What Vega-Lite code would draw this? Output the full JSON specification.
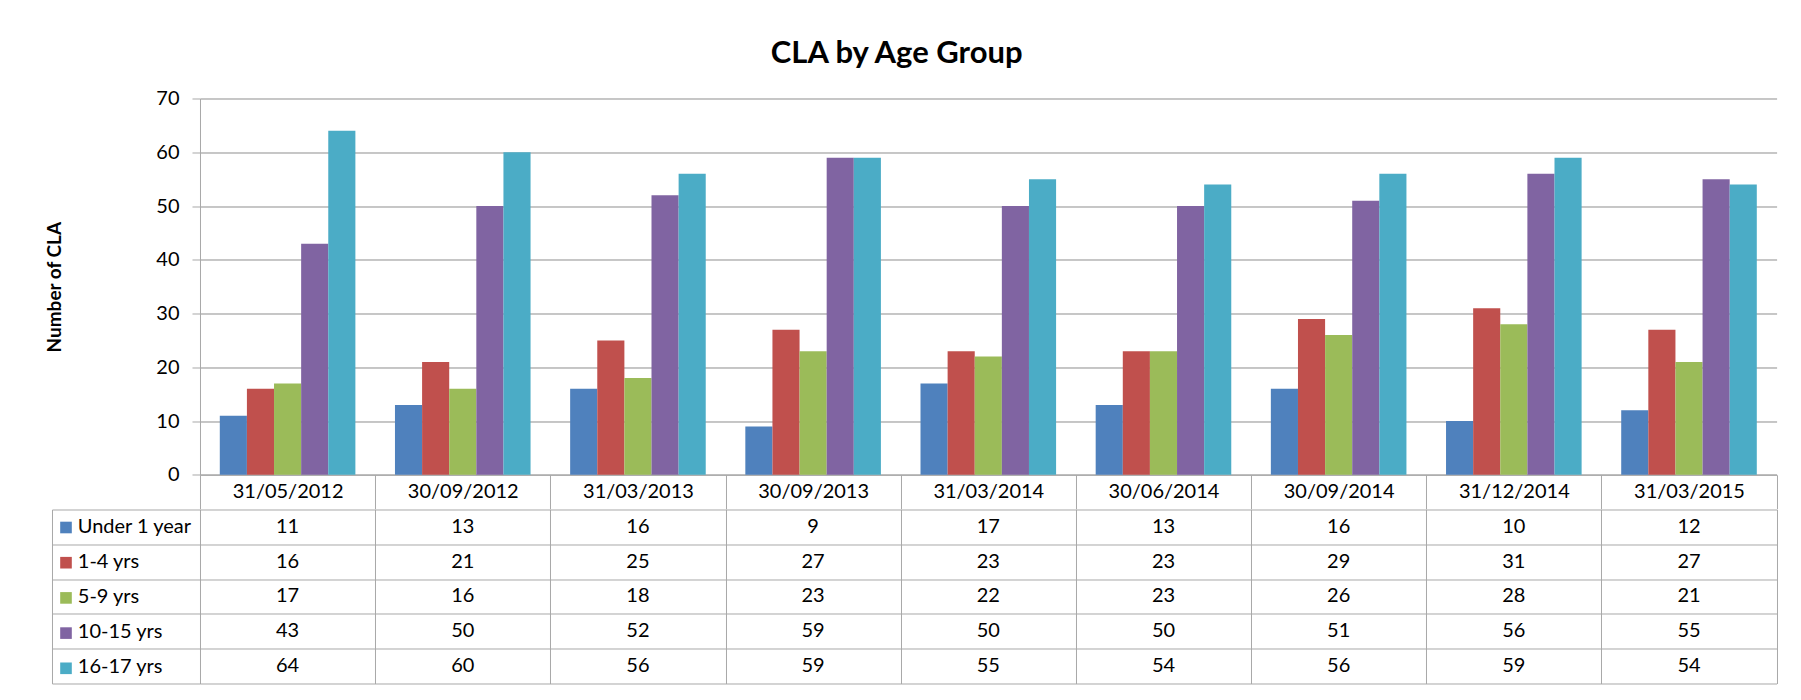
{
  "$schema": "https://vega.github.io/schema/vega-lite/v6.json",
  "background": "white",
  "padding": {"left": 45, "top": 37.5, "right": 5, "bottom": 5},
  "title": {"text": "CLA by Age Group", "font": "Lato", "fontSize": 31, "fontWeight": "bold", "color": "black", "anchor": "middle", "offset": 18.5, "dx": -15},
  "datasets": {
    "cla": [
      {"date": "31/05/2012", "group": "Under 1 year", "value": 11},
      {"date": "30/09/2012", "group": "Under 1 year", "value": 13},
      {"date": "31/03/2013", "group": "Under 1 year", "value": 16},
      {"date": "30/09/2013", "group": "Under 1 year", "value": 9},
      {"date": "31/03/2014", "group": "Under 1 year", "value": 17},
      {"date": "30/06/2014", "group": "Under 1 year", "value": 13},
      {"date": "30/09/2014", "group": "Under 1 year", "value": 16},
      {"date": "31/12/2014", "group": "Under 1 year", "value": 10},
      {"date": "31/03/2015", "group": "Under 1 year", "value": 12},
      {"date": "31/05/2012", "group": "1-4 yrs", "value": 16},
      {"date": "30/09/2012", "group": "1-4 yrs", "value": 21},
      {"date": "31/03/2013", "group": "1-4 yrs", "value": 25},
      {"date": "30/09/2013", "group": "1-4 yrs", "value": 27},
      {"date": "31/03/2014", "group": "1-4 yrs", "value": 23},
      {"date": "30/06/2014", "group": "1-4 yrs", "value": 23},
      {"date": "30/09/2014", "group": "1-4 yrs", "value": 29},
      {"date": "31/12/2014", "group": "1-4 yrs", "value": 31},
      {"date": "31/03/2015", "group": "1-4 yrs", "value": 27},
      {"date": "31/05/2012", "group": "5-9 yrs", "value": 17},
      {"date": "30/09/2012", "group": "5-9 yrs", "value": 16},
      {"date": "31/03/2013", "group": "5-9 yrs", "value": 18},
      {"date": "30/09/2013", "group": "5-9 yrs", "value": 23},
      {"date": "31/03/2014", "group": "5-9 yrs", "value": 22},
      {"date": "30/06/2014", "group": "5-9 yrs", "value": 23},
      {"date": "30/09/2014", "group": "5-9 yrs", "value": 26},
      {"date": "31/12/2014", "group": "5-9 yrs", "value": 28},
      {"date": "31/03/2015", "group": "5-9 yrs", "value": 21},
      {"date": "31/05/2012", "group": "10-15 yrs", "value": 43},
      {"date": "30/09/2012", "group": "10-15 yrs", "value": 50},
      {"date": "31/03/2013", "group": "10-15 yrs", "value": 52},
      {"date": "30/09/2013", "group": "10-15 yrs", "value": 59},
      {"date": "31/03/2014", "group": "10-15 yrs", "value": 50},
      {"date": "30/06/2014", "group": "10-15 yrs", "value": 50},
      {"date": "30/09/2014", "group": "10-15 yrs", "value": 51},
      {"date": "31/12/2014", "group": "10-15 yrs", "value": 56},
      {"date": "31/03/2015", "group": "10-15 yrs", "value": 55},
      {"date": "31/05/2012", "group": "16-17 yrs", "value": 64},
      {"date": "30/09/2012", "group": "16-17 yrs", "value": 60},
      {"date": "31/03/2013", "group": "16-17 yrs", "value": 56},
      {"date": "30/09/2013", "group": "16-17 yrs", "value": 59},
      {"date": "31/03/2014", "group": "16-17 yrs", "value": 55},
      {"date": "30/06/2014", "group": "16-17 yrs", "value": 54},
      {"date": "30/09/2014", "group": "16-17 yrs", "value": 56},
      {"date": "31/12/2014", "group": "16-17 yrs", "value": 59},
      {"date": "31/03/2015", "group": "16-17 yrs", "value": 54}
    ]
  },
  "vconcat": [
    {
      "width": 1576.6,
      "height": 376.3,
      "data": {"name": "cla"},
      "mark": {"type": "bar"},
      "encoding": {
        "x": {
          "field": "date", "type": "nominal", "sort": null,
          "scale": {"paddingInner": 0, "paddingOuter": 0},
          "axis": {"title": null, "grid": false, "tickBand": "extent", "tickSize": 34, "tickColor": "#a8a8a8", "domainColor": "#a8a8a8", "labelPadding": -17, "labelBaseline": "middle", "labelAngle": 0, "labelFont": "Lato", "labelFontSize": 20, "labelColor": "black"}
        },
        "xOffset": {
          "field": "group", "type": "nominal",
          "sort": ["Under 1 year", "1-4 yrs", "5-9 yrs", "10-15 yrs", "16-17 yrs"],
          "scale": {"paddingInner": 0, "paddingOuter": 0.73}
        },
        "y": {
          "field": "value", "type": "quantitative",
          "scale": {"domain": [0, 70], "nice": false},
          "axis": {"values": [0, 10, 20, 30, 40, 50, 60, 70], "grid": true, "gridColor": "#8e8e8e", "domainColor": "#a8a8a8", "tickColor": "#a8a8a8", "tickSize": 8, "labelPadding": 13, "labelFont": "Lato", "labelFontSize": 20, "labelColor": "black", "title": "Number of CLA", "titleFont": "Lato", "titleFontSize": 19, "titleFontWeight": "bold", "titleColor": "black", "titlePadding": 91}
        },
        "color": {
          "field": "group", "type": "nominal",
          "sort": ["Under 1 year", "1-4 yrs", "5-9 yrs", "10-15 yrs", "16-17 yrs"],
          "scale": {"domain": ["Under 1 year", "1-4 yrs", "5-9 yrs", "10-15 yrs", "16-17 yrs"], "range": ["#4f81bd", "#c0504d", "#9bbb59", "#8064a2", "#4bacc6"]},
          "legend": {"orient": "none", "legendX": -140, "legendY": 423, "title": null, "symbolType": "square", "symbolSize": 135, "symbolStrokeWidth": 0, "labelExpr": "''", "labelFontSize": 1, "rowPadding": 23.2, "padding": 0, "symbolOffset": 0}
        }
      }
    },
    {
      "width": 1576.6,
      "height": 174,
      "data": {"name": "cla"},
      "layer": [
        {
          "mark": {"type": "text", "font": "Lato", "fontSize": 20, "color": "black", "baseline": "middle"},
          "encoding": {
            "x": {
              "field": "date", "type": "nominal", "sort": null,
              "scale": {"paddingInner": 0, "paddingOuter": 0},
              "axis": {"title": null, "grid": true, "tickBand": "extent", "gridColor": "#a8a8a8", "labels": false, "ticks": false, "domain": false}
            },
            "y": {
              "field": "group", "type": "nominal",
              "sort": ["Under 1 year", "1-4 yrs", "5-9 yrs", "10-15 yrs", "16-17 yrs"],
              "scale": {"paddingInner": 0, "paddingOuter": 0},
              "axis": {"title": null, "grid": true, "tickBand": "extent", "gridColor": "#a8a8a8", "tickSize": 148, "tickColor": "#a8a8a8", "domain": false, "labelAlign": "left", "labelBaseline": "middle", "labelPadding": -25.3, "labelFont": "Lato", "labelFontSize": 20, "labelColor": "black"}
            },
            "text": {"field": "value", "type": "quantitative"}
          }
        },
        {
          "mark": {"type": "tick", "opacity": 0},
          "encoding": {
            "y": {
              "field": "group", "type": "nominal",
              "sort": ["Under 1 year", "1-4 yrs", "5-9 yrs", "10-15 yrs", "16-17 yrs"],
              "scale": {"paddingInner": 0, "paddingOuter": 0},
              "axis": {"orient": "left", "offset": 148, "title": null, "grid": false, "ticks": false, "labels": false, "domain": true, "domainColor": "#a8a8a8"}
            }
          }
        }
      ],
      "resolve": {"scale": {"y": "independent"}, "axis": {"y": "independent"}}
    }
  ],
  "spacing": 34,
  "bounds": "flush",
  "config": {"view": {"stroke": null}, "font": "Lato"}
}
